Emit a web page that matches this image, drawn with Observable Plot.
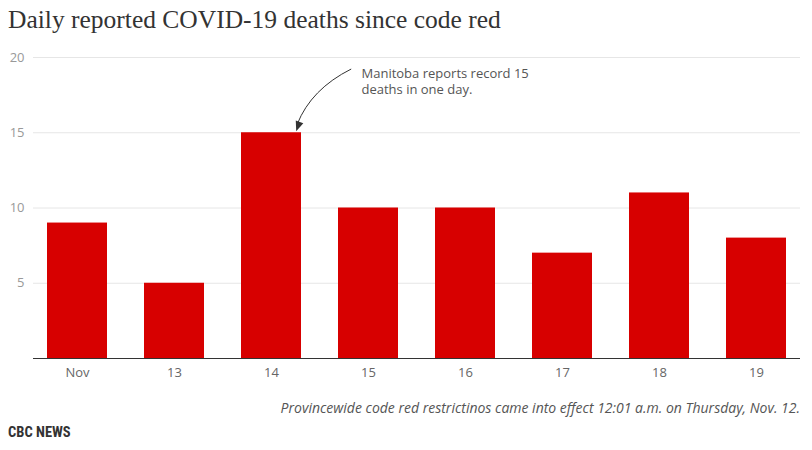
<!DOCTYPE html>
<html>
<head>
<meta charset="utf-8">
<script src="https://cdn.jsdelivr.net/npm/d3@7"></script>
<script src="https://cdn.jsdelivr.net/npm/@observablehq/plot@0.6"></script>
<style>
  html, body { margin: 0; padding: 0; background: #fff; }
  #wrap { width: 812px; height: 450px; position: relative; overflow: hidden; font-family: "Open Sans", sans-serif; }
  #title { position: absolute; left: 8px; top: 4px; font-family: "Liberation Serif", serif; font-size: 25.5px; color: #333; white-space: nowrap; line-height: 32px; }
  #chart { position: absolute; left: 0; top: 45px; }
  #caption { position: absolute; right: 12px; top: 399px; font-size: 14px; font-style: italic; color: #555; line-height: 18px; white-space: nowrap; }
  #source { position: absolute; left: 8px; top: 424px; font-family: "Liberation Sans Narrow", "Roboto Condensed", "Open Sans", sans-serif; font-weight: bold; font-size: 14.5px; color: #333; line-height: 18px; }
</style>
</head>
<body>
<div id="wrap">
  <div id="title">Daily reported COVID-19 deaths since code red</div>
  <div id="chart"></div>
  <div id="caption">Provincewide code red restrictinos came into effect 12:01 a.m. on Thursday, Nov. 12.</div>
  <div id="source">CBC NEWS</div>
</div>
<script>
const days = ["Nov", "13", "14", "15", "16", "17", "18", "19"];
const deaths = [9, 5, 15, 10, 10, 7, 11, 8];
const yTicks = [5, 10, 15, 20];
const noteLines = ["Manitoba reports record 15", "deaths in one day."];

const data = days.map((d, i) => ({day: d, deaths: deaths[i]}));

const chart = Plot.plot({
  width: 812,
  height: 343,
  marginLeft: 33,
  marginRight: 12,
  marginTop: 12,
  marginBottom: 30,
  style: {fontFamily: "Open Sans, sans-serif", fontSize: "13px", background: "#fff"},
  x: {domain: days, paddingInner: 0.385, paddingOuter: 0.13, label: null},
  y: {domain: [0, 20], label: null},
  marks: [
    Plot.ruleY(yTicks, {stroke: "#e6e6e6", strokeWidth: 1}),
    Plot.barY(data, {x: "day", y: "deaths", fill: "#d70000"}),
    Plot.ruleY([0], {stroke: "#333", strokeWidth: 1}),
    Plot.axisY(yTicks, {tickSize: 0, tickPadding: 9, color: "#999", fontSize: 13, label: null}),
    Plot.axisX({tickSize: 0, tickPadding: 9, color: "#666", fontSize: 13, label: null}),
    Plot.text([noteLines.join("\n")], {x: () => "15", y: 19.4, text: d => d, textAnchor: "start", lineAnchor: "top", dx: -7, fill: "#555", fontSize: 13, lineHeight: 1.25})
  ]
});
document.getElementById("chart").appendChild(chart);

// Curved annotation arrow, positioned through Plot's scales
const xs = chart.scale("x"), ys = chart.scale("y");
const bw = xs.bandwidth;
const sx = xs.apply("15") + 0.22 * bw, sy = ys.apply(19.2);
const tx = xs.apply("14") + 0.92 * bw, ty = ys.apply(15) - 1;
const cx = tx + 15, cy = sy + 20;
const svg = d3.select(chart);
svg.append("path")
  .attr("d", `M${sx},${sy}Q${cx},${cy} ${tx + 1},${ty - 7}`)
  .attr("fill", "none").attr("stroke", "#333").attr("stroke-width", 1);
// arrowhead
const ang = Math.atan2(ty - cy, tx - cx);
const L = 10, W = 4;
const bx = tx - L * Math.cos(ang), by = ty - L * Math.sin(ang);
svg.append("path")
  .attr("d", `M${tx},${ty}L${bx + W * Math.sin(ang)},${by - W * Math.cos(ang)}L${bx - W * Math.sin(ang)},${by + W * Math.cos(ang)}Z`)
  .attr("fill", "#333");
</script>
</body>
</html>
